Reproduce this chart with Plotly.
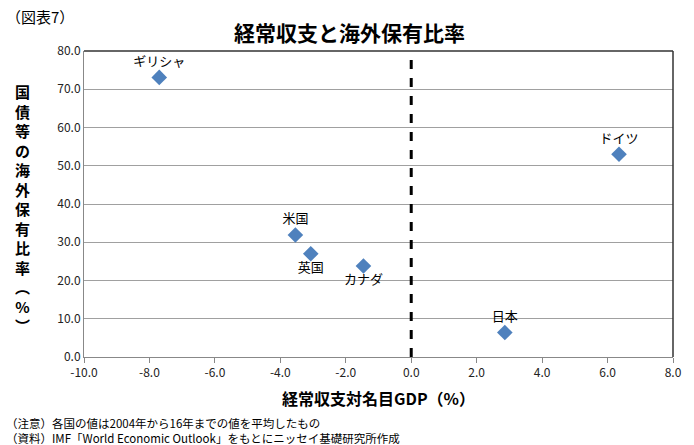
import plotly.graph_objects as go

# Current account balance (% of nominal GDP) vs. foreign holding share of government bonds (%)
countries = ["ギリシャ", "ドイツ", "米国", "英国", "カナダ", "日本"]
current_account = [-7.70, 6.35, -3.54, -3.07, -1.46, 2.86]
foreign_share = [73.1, 53.0, 31.9, 27.0, 23.8, 6.4]
label_pos = ["top center", "top center", "top center", "bottom center", "bottom center", "top center"]

x_ticks = [-10, -8, -6, -4, -2, 0, 2, 4, 6, 8]
y_ticks = [0, 10, 20, 30, 40, 50, 60, 70, 80]

JP = "Noto Sans CJK JP"

W, H = 694, 445
L, R, T, B = 84, 18, 51, 88
pw, ph = W - L - R, H - T - B


def px_to_paper(px, py):
    """Convert a pixel position in the page to paper coordinates."""
    return (px - L) / pw, (H - B - py) / ph


fig = go.Figure()

# Dashed reference line at zero balance
fig.add_trace(go.Scatter(
    x=[0, 0], y=[0, 80], mode="lines",
    line=dict(color="black", width=3, dash="dash"),
    hoverinfo="skip", showlegend=False,
))

fig.add_trace(go.Scatter(
    x=current_account, y=foreign_share, mode="markers+text",
    text=countries, textposition=label_pos,
    textfont=dict(family=JP, size=13, color="black"),
    marker=dict(symbol="diamond", size=12, color="#4F81BD"),
    showlegend=False,
))

fig.update_xaxes(
    range=[-10, 8], tickvals=x_ticks,
    ticktext=[f"{v:.1f}" for v in x_ticks],
    showgrid=False, zeroline=False,
    showline=True, linecolor="#888888", linewidth=1,
    ticks="outside", ticklen=5, tickcolor="#888888",
    tickfont=dict(family=JP, size=12, color="#222222"),
)
fig.update_yaxes(
    range=[0, 80], tickvals=y_ticks,
    ticktext=[f"{v:.1f}" for v in y_ticks],
    showgrid=True, gridcolor="#a0a0a0", gridwidth=1,
    zeroline=False,
    showline=True, linecolor="#888888", linewidth=1,
    ticks="", tickfont=dict(family=JP, size=12, color="#222222"),
)

# Plot-area frame (top and right edges)
fig.add_shape(type="line", xref="paper", yref="paper", x0=0, x1=1, y0=1, y1=1,
              line=dict(color="#333333", width=1.5))
fig.add_shape(type="line", xref="paper", yref="paper", x0=1, x1=1, y0=0, y1=1,
              line=dict(color="#333333", width=1.5))

y_title = "<br>".join(list("国債等の海外保有比率") + ["︵", "%", "︶"])

# (text, x px, y px, xanchor, yanchor, size)
texts = [
    ("（図表7）", 4, 4, "left", "top", 15),
    ("<b>経常収支と海外保有比率</b>", 351, 32, "center", "middle", 21),
    ("<b>" + y_title + "</b>", 22, 208, "center", "middle", 15),
    ("<b>経常収支対名目GDP（%）</b>", 380, 398, "center", "middle", 16),
    ("（注意）各国の値は2004年から16年までの値を平均したもの", 4, 423, "left", "middle", 11.5),
    ("（資料）IMF「World Economic Outlook」をもとにニッセイ基礎研究所作成", 4, 438, "left", "middle", 11.5),
]
annotations = []
for text, px, py, xa, ya, size in texts:
    x, y = px_to_paper(px, py)
    annotations.append(dict(
        text=text, x=x, y=y, xref="paper", yref="paper",
        xanchor=xa, yanchor=ya, showarrow=False,
        font=dict(family=JP, size=size, color="black"),
    ))

fig.update_layout(
    width=W, height=H,
    margin=dict(l=L, r=R, t=T, b=B),
    paper_bgcolor="white", plot_bgcolor="white",
    annotations=annotations,
    font=dict(family=JP),
)

fig.write_html("out.html")
